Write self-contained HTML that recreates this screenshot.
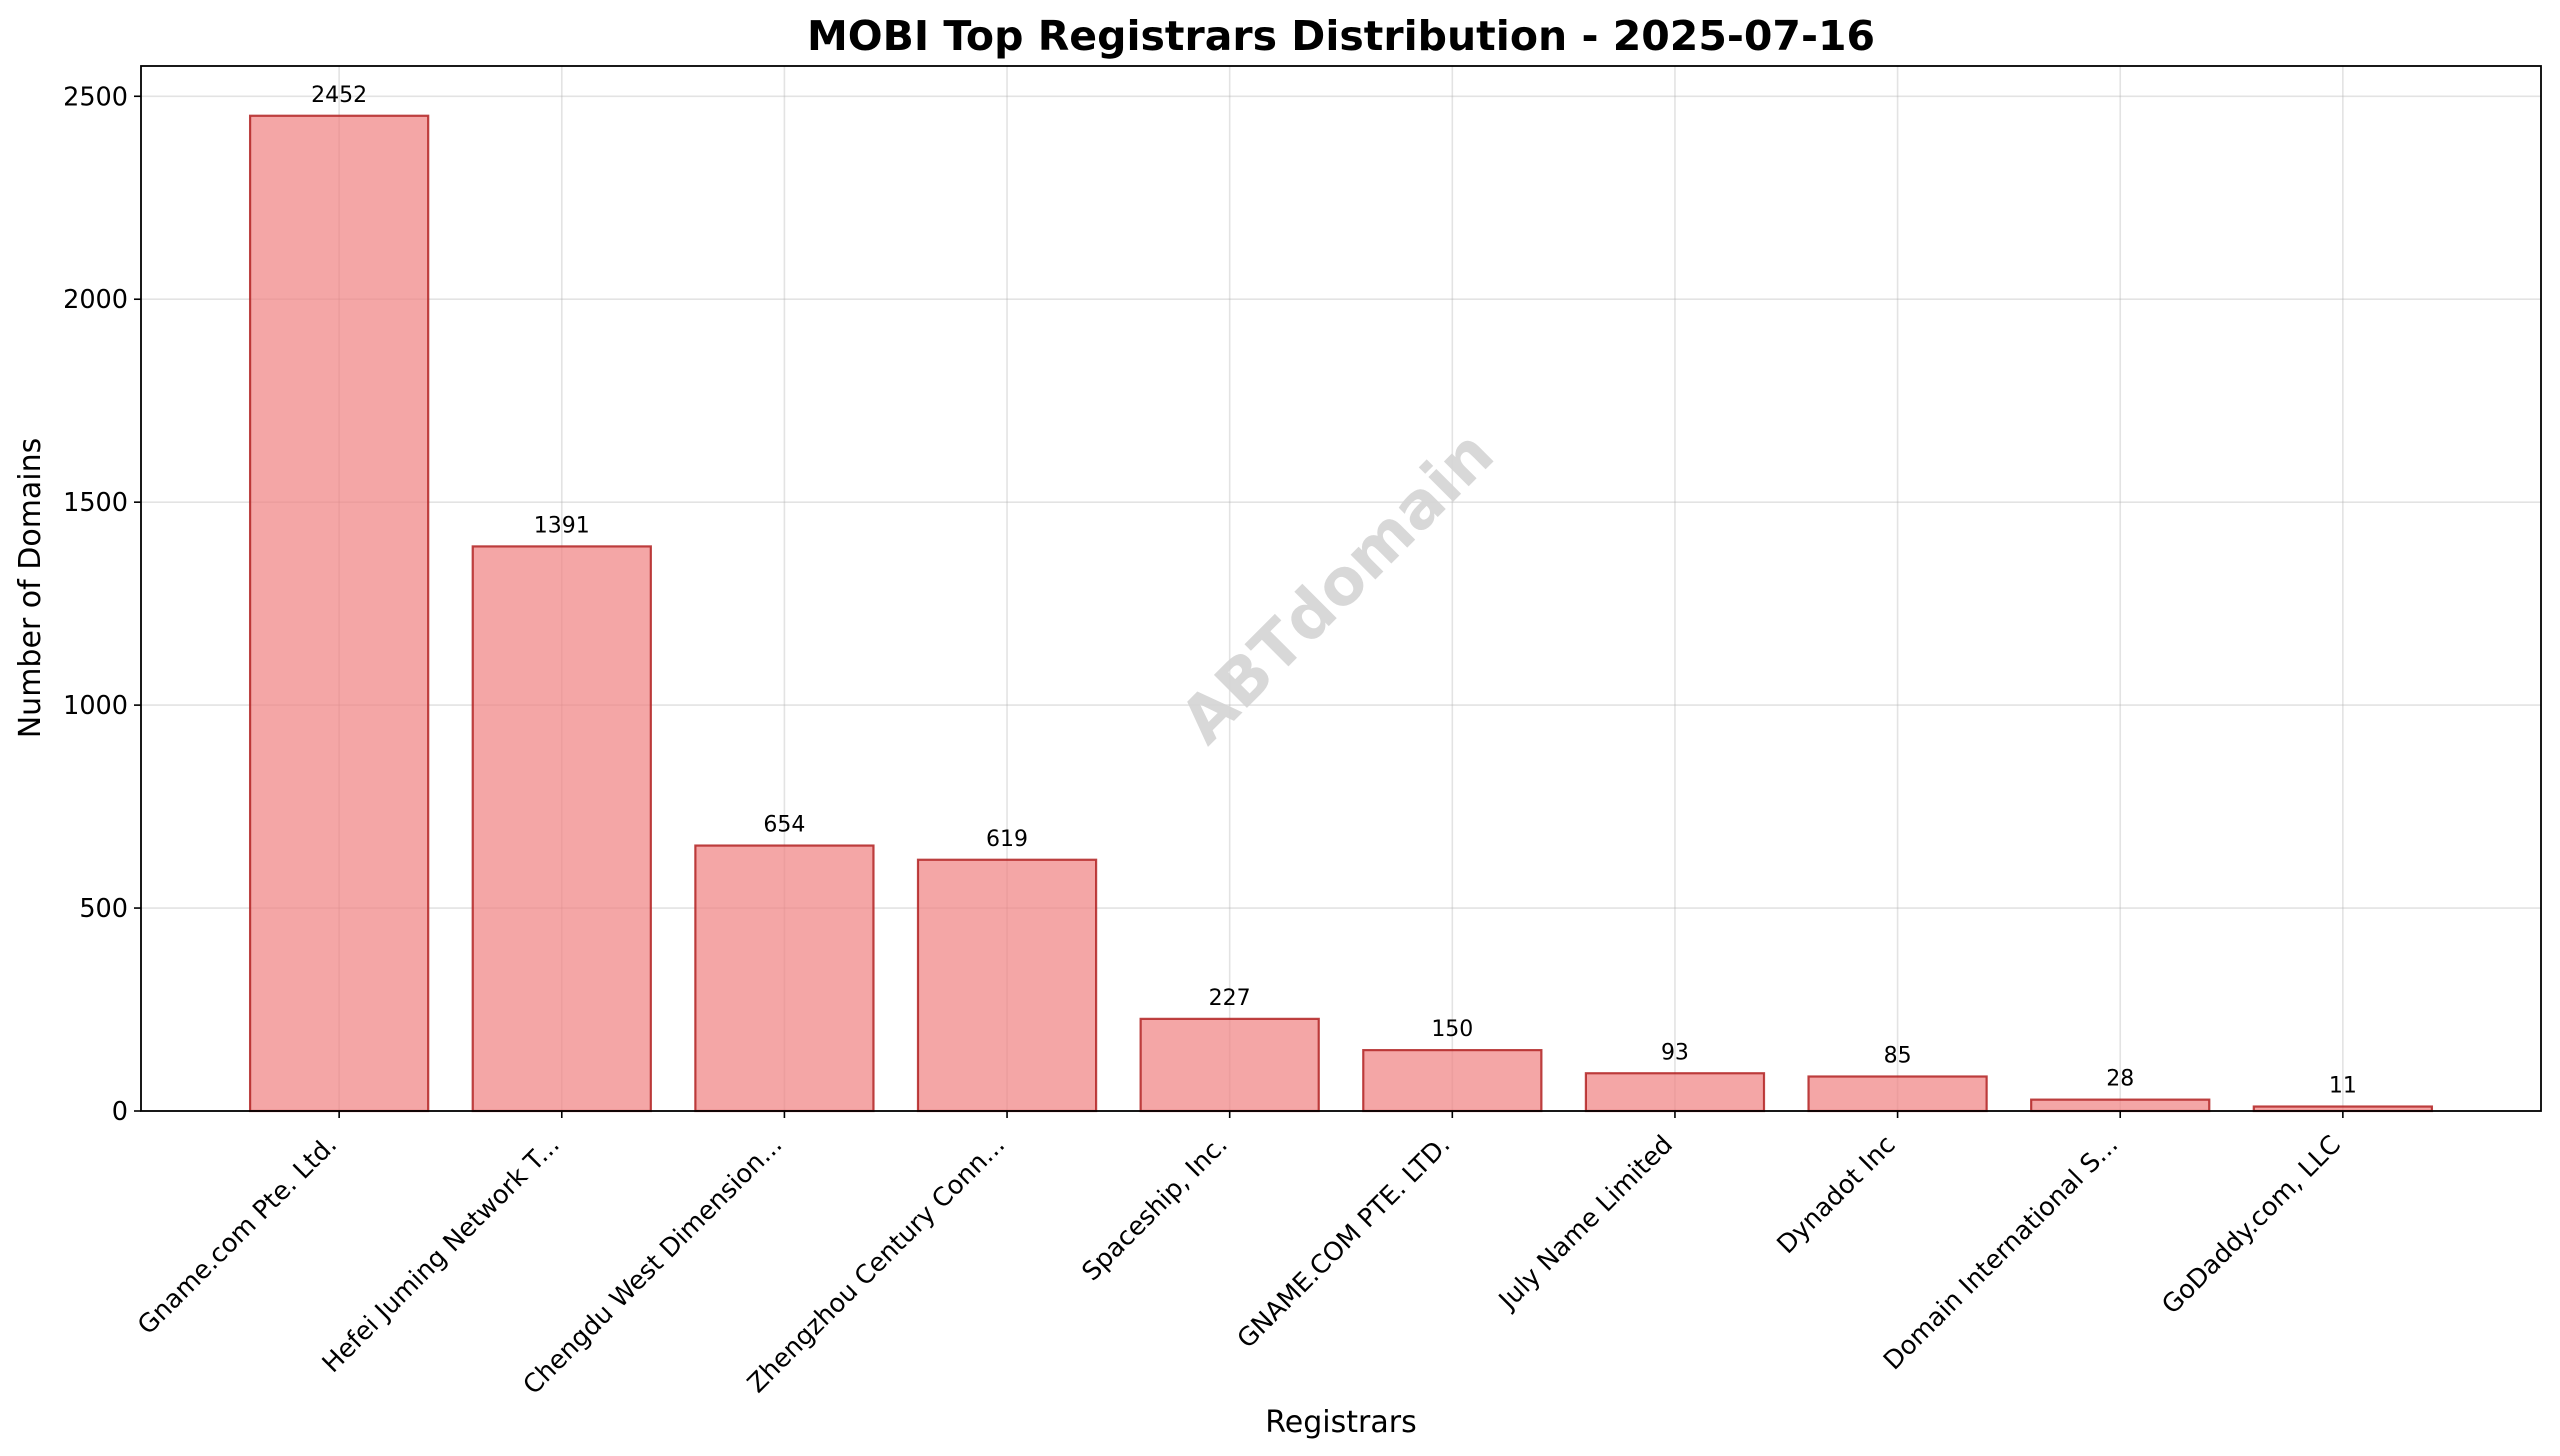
<!DOCTYPE html>
<html><head><meta charset="utf-8"><style>
html,body{margin:0;padding:0;background:#fff;}
svg{display:block;font-family:"DejaVu Sans","Liberation Sans",sans-serif;}
</style></head><body>
<svg id="chart" width="2560" height="1456" viewBox="0 0 2560 1456">
<rect width="2560" height="1456" fill="#fff"/>
<g id="grid"></g>
<g id="bars"></g>
<text x="1340" y="590" font-size="64" font-weight="bold" fill="#d4d4d4" fill-opacity="0.9" text-anchor="middle" dominant-baseline="middle" transform="rotate(-45 1340 590)">ABTdomain</text>
<g id="labels"></g>
<g id="axes"></g>
<text x="1341" y="50" font-size="41" font-weight="bold" text-anchor="middle" fill="#000">MOBI Top Registrars Distribution - 2025-07-16</text>
<text x="1341" y="1432" font-size="30" text-anchor="middle" fill="#000">Registrars</text>
<text x="40" y="588" font-size="30" text-anchor="middle" fill="#000" transform="rotate(-90 40 588)">Number of Domains</text>
</svg>
<script>
const categories = ["Gname.com Pte. Ltd.","Hefei Juming Network T...","Chengdu West Dimension...","Zhengzhou Century Conn...","Spaceship, Inc.","GNAME.COM PTE. LTD.","July Name Limited","Dynadot Inc","Domain International S...","GoDaddy.com, LLC"];
const values = [2452,1391,654,619,227,150,93,85,28,11];
const yTicks = [0,500,1000,1500,2000,2500];

const NS="http://www.w3.org/2000/svg";
const L=141,R=2541,T=66,B=1111;
const n=categories.length;
const xmin=-0.89, xmax=(n-1)+0.89;
const ymax=Math.max(...values)*1.05;
function xs(i){return L+(i-xmin)/(xmax-xmin)*(R-L);}
function ys(v){return B-v/ymax*(B-T);}
const bw=(xs(0.8)-xs(0));
function mk(tag,attrs,parent){const e=document.createElementNS(NS,tag);for(const k in attrs)e.setAttribute(k,attrs[k]);parent.appendChild(e);return e;}
const grid=document.getElementById('grid'),bars=document.getElementById('bars'),labels=document.getElementById('labels'),axes=document.getElementById('axes');
yTicks.forEach(t=>{
  const y=ys(t);
  const g=mk('line',{x1:L,x2:R,y1:y,y2:y,stroke:'#b0b0b0','stroke-opacity':0.35,'stroke-width':1.6},grid);
  
  
  const tk=mk('line',{x1:L-7,x2:L,y1:y,y2:y,stroke:'#000','stroke-width':1.6},axes);
  
  
  const tx=mk('text',{x:L-13,y:y+9,'font-size':25.5,'text-anchor':'end',fill:'#000'},axes);
  tx.textContent=t;
  
  
});
categories.forEach((c,i)=>{
  const x=xs(i);
  const g=mk('line',{x1:x,x2:x,y1:T,y2:B,stroke:'#b0b0b0','stroke-opacity':0.35,'stroke-width':1.6},grid);
  
  
  const v=values[i];
  const r=mk('rect',{x:x-bw/2,y:ys(v),width:bw,height:B-ys(v),fill:'#f08080','fill-opacity':0.7,stroke:'#b22222','stroke-opacity':0.85,'stroke-width':2.2},bars);
  
  
  const lb=mk('text',{x:x,y:ys(v)-14,'font-size':22,'text-anchor':'middle',fill:'#000'},labels);
  lb.textContent=v;
  
  
  const tk=mk('line',{x1:x,x2:x,y1:B,y2:B+7,stroke:'#000','stroke-width':1.6},axes);
  
  
  const ax=x-14, ay=1133;
  const tl=mk('text',{x:ax,y:ay,'font-size':25.5,'text-anchor':'end','dominant-baseline':'hanging',fill:'#000',transform:'rotate(-45 '+ax+' '+ay+')'},axes);
  tl.textContent=c;
  
  
});
const frame=mk('rect',{x:L,y:T,width:R-L,height:B-T,fill:'none',stroke:'#000','stroke-width':1.8},axes);


</script>
</body></html>
